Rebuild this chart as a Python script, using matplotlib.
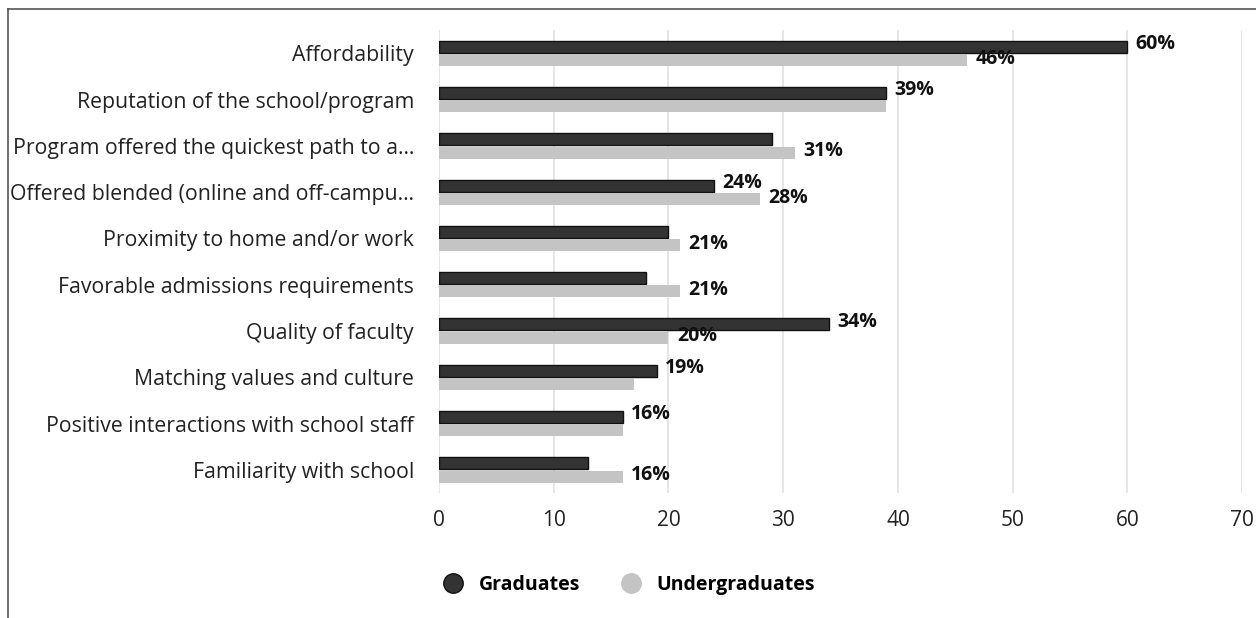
import matplotlib
matplotlib.use("Agg")
import matplotlib.pyplot as plt
from matplotlib.lines import Line2D
import numpy as np

plt.rcParams['font.family'] = ['Open Sans', 'DejaVu Sans']

categories = [
    "Affordability",
    "Reputation of the school/program",
    "Program offered the quickest path to a…",
    "Offered blended (online and off-campu…",
    "Proximity to home and/or work",
    "Favorable admissions requirements",
    "Quality of faculty",
    "Matching values and culture",
    "Positive interactions with school staff",
    "Familiarity with school",
]
graduates = [60, 39, 29, 24, 20, 18, 34, 19, 16, 13]
undergraduates = [46, 39, 31, 28, 21, 21, 20, 17, 16, 16]
grad_label_shown = [True, True, False, True, False, False, True, True, True, False]
under_label_shown = [True, False, True, True, True, True, True, False, False, True]
xticks = [0, 10, 20, 30, 40, 50, 60, 70]

fig = plt.figure(figsize=(12.56, 6.18), dpi=100)
ax = fig.add_axes([0.3495, 0.2023, 0.6395, 0.7487])

y = np.arange(len(categories))
h = 0.26
off = 0.145
ax.barh(y - off, graduates, height=h, color="#333333", edgecolor="#111111", linewidth=1.0, zorder=3)
ax.barh(y + off, undergraduates, height=h, color="#c4c4c4", edgecolor="none", zorder=3)

for i in range(len(categories)):
    if grad_label_shown[i]:
        ax.annotate(f"{graduates[i]}%", (graduates[i], y[i] - off), xytext=(6, 2),
                    textcoords="offset points", va="center", ha="left",
                    fontsize=14, fontweight="bold", color="#111111", zorder=5)
    if under_label_shown[i]:
        ax.annotate(f"{undergraduates[i]}%", (undergraduates[i], y[i] + off), xytext=(6, 1),
                    textcoords="offset points", va="center", ha="left",
                    fontsize=14, fontweight="bold", color="#111111", zorder=5)

ax.set_xlim(0, 70)
ax.set_ylim(len(categories) - 0.5, -0.5)
ax.set_xticks(xticks)
ax.set_xticklabels([str(t) for t in xticks], fontsize=15, color="#222222")
ax.set_yticks(y)
ax.set_yticklabels(categories, fontsize=15.3, color="#222222")
ax.tick_params(axis="y", length=0, pad=18)
ax.tick_params(axis="x", length=0, pad=12)
ax.grid(axis="x", color="#e2e2e2", linewidth=1.2, zorder=0)
ax.set_axisbelow(True)
for s in ax.spines.values():
    s.set_visible(False)

handles = [
    Line2D([], [], marker="o", linestyle="none", markersize=14, markerfacecolor="#333333",
           markeredgecolor="#111111", label="Graduates"),
    Line2D([], [], marker="o", linestyle="none", markersize=14, markerfacecolor="#c4c4c4",
           markeredgecolor="#c4c4c4", label="Undergraduates"),
]
fig.legend(handles=handles, loc="center", bbox_to_anchor=(0.497, 0.053), ncol=2, frameon=False,
           prop={"size": 14, "weight": "bold"}, handletextpad=0.3, columnspacing=1.6)

# frame lines (top and left)
fig.add_artist(Line2D([8 / 1256, 1], [1 - 9 / 618, 1 - 9 / 618], transform=fig.transFigure,
                      color="#555555", linewidth=1.2))
fig.add_artist(Line2D([8 / 1256, 8 / 1256], [0, 1 - 9 / 618], transform=fig.transFigure,
                      color="#555555", linewidth=1.2))

fig.savefig("out.png", dpi=100)
